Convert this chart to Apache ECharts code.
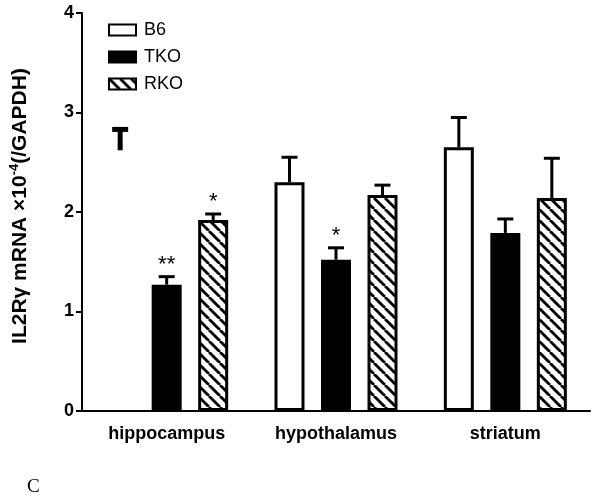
<!DOCTYPE html>
<html>
<head>
<meta charset="utf-8">
<script src="https://cdn.jsdelivr.net/npm/echarts@6/dist/echarts.min.js"></script>
<style>html,body{margin:0;padding:0;background:#fff}#c{width:600px;height:500px}</style>
</head>
<body>
<div id="c"></div>
<script>
var categories = ['hippocampus', 'hypothalamus', 'striatum'];
var seriesNames = ['B6', 'TKO', 'RKO'];
var b6 = [2.62, 2.30, 2.65];
var tko = [1.27, 1.52, 1.79];
var rko = [1.92, 2.17, 2.14];
var b6Err = [0.21, 0.25, 0.30];
var tkoErr = [0.08, 0.12, 0.14];
var rkoErr = [0.06, 0.10, 0.40];
var b6Sig = ['', '', ''];
var tkoSig = ['**', '*', ''];
var rkoSig = ['*', '', ''];
var yTicks = [0, 1, 2, 3, 4];

var FONT = 'Liberation Sans, Arial, sans-serif';
var BAR_W = 30, GAP = 0.55;

function hatch() {
  var s = 11, c = document.createElement('canvas');
  c.width = s; c.height = s;
  var g = c.getContext('2d');
  g.fillStyle = '#fff'; g.fillRect(0, 0, s, s);
  g.strokeStyle = '#000'; g.lineWidth = 2.8;
  for (var k = -1; k <= 1; k++) {
    g.beginPath(); g.moveTo(k * s, 0); g.lineTo(k * s + s, s); g.stroke();
  }
  return c;
}
var hatchPattern = { image: hatch(), repeat: 'repeat' };

function errSeries(vals, errs, sigs, si, thickFirst) {
  return {
    type: 'custom',
    z: 5,
    silent: true,
    clip: false,
    data: vals.map(function (v, i) { return [i, v, errs[i]]; }),
    renderItem: function (params, api) {
      var i = params.dataIndex;
      var cat = api.value(0), v = api.value(1), e = api.value(2);
      var p0 = api.coord([cat, v]);
      var p1 = api.coord([cat, v + e]);
      var x = p0[0] + (si - 1) * BAR_W * (1 + GAP);
      var lw = (thickFirst && i === 0) ? 5 : 3;
      var children = [
        { type: 'line', shape: { x1: x, y1: p0[1], x2: x, y2: p1[1] }, style: { stroke: '#000', lineWidth: lw } },
        { type: 'line', shape: { x1: x - 8, y1: p1[1], x2: x + 8, y2: p1[1] }, style: { stroke: '#000', lineWidth: lw } }
      ];
      if (sigs[i]) {
        children.push({ type: 'text', style: { text: sigs[i], x: x, y: p1[1] - 1, align: 'center', verticalAlign: 'bottom', font: '22px ' + FONT, fill: '#000' } });
      }
      return { type: 'group', children: children };
    }
  };
}

var chart = echarts.init(document.getElementById('c'), null, { renderer: 'canvas' });
chart.setOption({
  animation: false,
  backgroundColor: '#fff',
  grid: { left: 80, right: 10, top: 13, bottom: 89, containLabel: false },
  legend: {
    orient: 'vertical', left: 103, top: 16, itemWidth: 27, itemHeight: 11, itemGap: 9,
    icon: 'rect',
    data: seriesNames,
    textStyle: { fontFamily: FONT, fontSize: 18, color: '#000', padding: [0, 0, 0, 3] }
  },
  xAxis: {
    type: 'category', data: categories,
    axisLine: { lineStyle: { color: '#000', width: 2 } },
    axisTick: { show: false },
    axisLabel: { fontFamily: FONT, fontWeight: 'bold', fontSize: 18, color: '#000', margin: 14 }
  },
  yAxis: {
    type: 'value', min: yTicks[0], max: yTicks[yTicks.length - 1], interval: 1,
    splitLine: { show: false },
    axisLine: { show: true, lineStyle: { color: '#000', width: 2 } },
    axisTick: { show: true, length: 6, lineStyle: { color: '#000', width: 2 } },
    axisLabel: { fontFamily: FONT, fontWeight: 'bold', fontSize: 18, color: '#000', margin: 8 },
    name: '{a|IL2Rγ mRNA ×10}{s|-4}{a|(/GAPDH)}',
    nameLocation: 'middle', nameGap: 51, nameRotate: 90,
    nameTextStyle: {
      padding: [0, 0, 0, 12],
      rich: {
        a: { fontFamily: FONT, fontWeight: 'bold', fontSize: 21, color: '#000', lineHeight: 23, verticalAlign: 'bottom' },
        s: { fontFamily: FONT, fontWeight: 'bold', fontSize: 13, color: '#000', lineHeight: 23, verticalAlign: 'top', padding: [0, 0, 8, 0] }
      }
    }
  },
  series: [
    { name: 'B6', type: 'bar', barWidth: BAR_W, barGap: (GAP * 100) + '%',
      itemStyle: { color: '#fff', borderColor: '#000', borderWidth: 3 },
      data: b6.map(function (v, i) { return i === 0 ? { value: v, itemStyle: { color: 'rgba(0,0,0,0)', borderWidth: 0 } } : v; }) },
    { name: 'TKO', type: 'bar', barWidth: BAR_W, barGap: (GAP * 100) + '%',
      itemStyle: { color: '#000', borderColor: '#000', borderWidth: 3 }, data: tko },
    { name: 'RKO', type: 'bar', barWidth: BAR_W, barGap: (GAP * 100) + '%',
      itemStyle: { color: hatchPattern, borderColor: '#000', borderWidth: 3 }, data: rko },
    errSeries(b6, b6Err, b6Sig, 0, true),
    errSeries(tko, tkoErr, tkoSig, 1, false),
    errSeries(rko, rkoErr, rkoSig, 2, false)
  ],
  graphic: [
    { type: 'text', left: 27, top: 478, style: { text: 'C', font: '19px Liberation Serif, Times New Roman, serif', fill: '#000' } }
  ]
});
</script>
</body>
</html>
